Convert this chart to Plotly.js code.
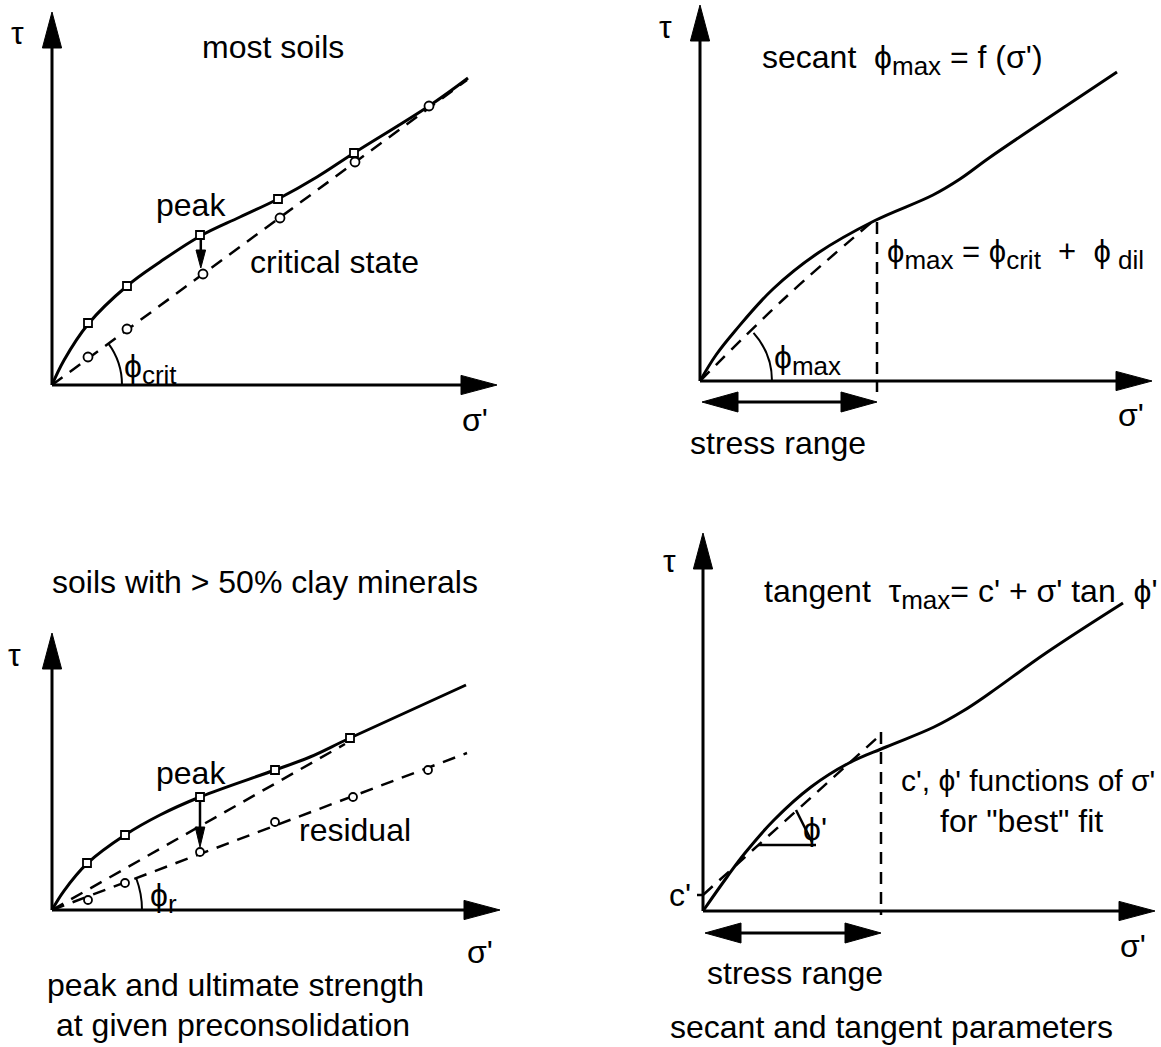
<!DOCTYPE html>
<html><head><meta charset="utf-8">
<script src="https://cdn.plot.ly/plotly-3.0.1.min.js"></script>
<style>html,body{margin:0;padding:0;background:#fff}</style>
</head><body><div id="chart" style="width:1161px;height:1047px"></div>
<script>
// ---------- Panel 1: most soils ----------
const p1PeakSigma = [0.9, 1.875, 3.7, 5.65, 7.55];
const p1PeakTau   = [1.55, 2.475, 3.75, 4.65, 5.8];
const p1PeakCurveSigma = [0, 0.3, 0.9, 1.875, 2.7, 3.7, 4.7, 5.65, 6.625, 7.55, 9.425, 10.4];
const p1PeakCurveTau   = [0, 0.62, 1.52, 2.475, 3.075, 3.72, 4.2, 4.65, 5.2, 5.8, 6.975, 7.675];
const p1CritSigma = [0.9, 1.875, 3.775, 5.7, 7.575, 9.425];
const p1CritTau   = [0.7, 1.4, 2.775, 4.175, 5.575, 6.975];
const p1CritLineSigma = [0, 10.375];
const p1CritLineTau   = [0, 7.625];

// ---------- Panel 2: secant ----------
const p2CurveSigma = [0, 0.4, 0.875, 1.825, 2.95, 4.35, 5.825, 6.5, 7.225, 8.625, 10.425];
const p2CurveTau   = [0, 0.65, 1.25, 2.3, 3.2, 4.0, 4.65, 5.05, 5.575, 6.525, 7.725];
const p2SecantSigma = [0, 2.15, 4.3];
const p2SecantTau   = [0, 2.1, 3.975];
const p2StressRange = [0.05, 4.425];

// ---------- Panel 3: soils with > 50% clay minerals ----------
const p3PeakSigma = [0.875, 1.825, 3.7, 5.575, 7.45];
const p3PeakTau   = [1.175, 1.875, 2.825, 3.5, 4.3];
const p3PeakCurveSigma = [0, 0.3, 0.875, 1.825, 2.7, 3.7, 5.575, 6.45, 7.45, 10.35];
const p3PeakCurveTau   = [0, 0.48, 1.16, 1.875, 2.375, 2.825, 3.5, 3.825, 4.3, 5.625];
const p3ResSigma = [0.9, 1.825, 3.7, 5.575, 7.525, 9.4];
const p3ResTau   = [0.25, 0.675, 1.45, 2.2, 2.825, 3.5];
const p3ResLineSigma = [0, 10.375];
const p3ResLineTau   = [0, 3.925];
const p3CritLineSigma = [0, 7.325];
const p3CritLineTau   = [0, 4.15];

// ---------- Panel 4: tangent ----------
const p4CurveSigma = [0, 0.6, 1.05, 1.775, 2.7, 3.65, 4.575, 5.775, 6.5, 7.175, 8.575, 10.5];
const p4CurveTau   = [0, 0.85, 1.45, 2.275, 3.1, 3.7, 4.1, 4.6, 5.0, 5.45, 6.45, 7.7];
const p4TangentSigma = [0, 4.35];
const p4TangentTau   = [0.4, 4.325];
const p4StressRange = [0.05, 4.45];

// ---------- layout geometry ----------
const W = 1161, H = 1047, S = 40;
const FONT = 'Liberation Sans, Arial, Helvetica, DejaVu Sans, sans-serif';
const panels = [
  {ox: 52,  oy: 385, L: 0,   R: 580,  T: 0,   B: 500,  xTip: 11.125, yTip: 9.325},
  {ox: 700, oy: 381, L: 580, R: 1161, T: 0,   B: 500,  xTip: 11.3,   yTip: 9.4},
  {ox: 52,  oy: 910, L: 0,   R: 580,  T: 500, B: 1047, xTip: 11.2,   yTip: 6.925},
  {ox: 703, oy: 911, L: 580, R: 1161, T: 500, B: 1047, xTip: 11.3,   yTip: 9.45}
];
const sfx = i => (i === 0 ? '' : String(i + 1));

const traces = [];
function addLine(i, xs, ys, dash, width, spline) {
  traces.push({x: xs, y: ys, xaxis: 'x' + sfx(i), yaxis: 'y' + sfx(i), mode: 'lines',
    line: {color: '#000', width: width || 3, dash: dash || 'solid', shape: spline ? 'spline' : 'linear', smoothing: 1.1},
    hoverinfo: 'skip', showlegend: false});
}
function addMarkers(i, xs, ys, symbol, size) {
  traces.push({x: xs, y: ys, xaxis: 'x' + sfx(i), yaxis: 'y' + sfx(i), mode: 'markers',
    marker: {symbol: symbol, size: size, color: '#fff', line: {color: '#000', width: 1.8}},
    hoverinfo: 'skip', showlegend: false, cliponaxis: false});
}

const DASH = '13px,9px';
// panel 1
addLine(0, p1CritLineSigma, p1CritLineTau, DASH, 2.5);
addLine(0, p1PeakCurveSigma, p1PeakCurveTau, null, 3, true);
addMarkers(0, p1PeakSigma, p1PeakTau, 'square', 8);
addMarkers(0, p1CritSigma, p1CritTau, 'circle', 9);
// panel 2
addLine(1, p2SecantSigma, p2SecantTau, DASH, 2.5, true);
addLine(1, p2CurveSigma, p2CurveTau, null, 3, true);
// panel 3
addLine(2, p3CritLineSigma, p3CritLineTau, DASH, 2.5);
addLine(2, p3ResLineSigma, p3ResLineTau, DASH, 2.5);
addLine(2, p3PeakCurveSigma, p3PeakCurveTau, null, 3, true);
addMarkers(2, p3PeakSigma, p3PeakTau, 'square', 8);
addMarkers(2, p3ResSigma, p3ResTau, 'circle', 8);
// panel 4
addLine(3, p4TangentSigma, p4TangentTau, DASH, 2.5);
addLine(3, p4CurveSigma, p4CurveTau, null, 3, true);

// ---------- shapes ----------
const shapes = [];
function seg(i, x0, y0, x1, y1, w, dash) {
  shapes.push({type: 'line', xref: 'x' + sfx(i), yref: 'y' + sfx(i), x0, y0, x1, y1,
    line: {color: '#000', width: w || 3, dash: dash || 'solid'}, layer: 'above'});
}
function tri(i, tx, ty, dir, len, half) {
  let p;
  if (dir === 'right') p = `M${tx},${ty} L${tx - len},${ty + half} L${tx - len},${ty - half} Z`;
  if (dir === 'left')  p = `M${tx},${ty} L${tx + len},${ty + half} L${tx + len},${ty - half} Z`;
  if (dir === 'up')    p = `M${tx},${ty} L${tx - half},${ty - len} L${tx + half},${ty - len} Z`;
  if (dir === 'down')  p = `M${tx},${ty} L${tx - half},${ty + len} L${tx + half},${ty + len} Z`;
  shapes.push({type: 'path', xref: 'x' + sfx(i), yref: 'y' + sfx(i), path: p,
    fillcolor: '#000', line: {color: '#000', width: 1}, layer: 'above'});
}
function arc(i, r, deg) {
  const t = deg * Math.PI / 180, k = 4 / 3 * Math.tan(t / 4) * r;
  const x3 = r * Math.cos(t), y3 = r * Math.sin(t);
  const x2 = x3 + k * Math.sin(t), y2 = y3 - k * Math.cos(t);
  shapes.push({type: 'path', xref: 'x' + sfx(i), yref: 'y' + sfx(i),
    path: `M${r},0 C${r},${k} ${x2},${y2} ${x3},${y3}`, line: {color: '#000', width: 2}, layer: 'above'});
}
// axes with arrow heads
const HL = 0.9, HW = 0.24;
panels.forEach((p, i) => {
  seg(i, 0, 0, p.xTip - HL + 0.1, 0, 3);
  seg(i, 0, 0, 0, p.yTip - HL + 0.1, 3);
  tri(i, p.xTip, 0, 'right', HL, HW);
  tri(i, 0, p.yTip, 'up', HL, HW);
});
// panel 1 extras
seg(0, 3.72, 3.65, 3.72, 3.3, 2.5);
tri(0, 3.72, 2.925, 'down', 0.45, 0.12);
arc(0, 1.75, 36.5);
// panel 2 extras
seg(1, 4.425, 3.975, 4.425, -0.275, 2.5, '12px,8px');
seg(1, p2StressRange[0] + 0.8, -0.525, p2StressRange[1] - 0.8, -0.525, 3);
tri(1, p2StressRange[0], -0.525, 'left', 0.9, 0.25);
tri(1, p2StressRange[1], -0.525, 'right', 0.9, 0.25);
arc(1, 1.8, 42);
// panel 3 extras
seg(2, 3.7, 2.72, 3.7, 2.0, 2.5);
tri(2, 3.7, 1.575, 'down', 0.5, 0.12);
arc(2, 2.25, 20.5);
// panel 4 extras
seg(3, 4.45, 4.475, 4.45, -0.1, 2.5, '12px,8px');
seg(3, p4StressRange[0] + 0.8, -0.55, p4StressRange[1] - 0.8, -0.55, 3);
tri(3, p4StressRange[0], -0.55, 'left', 0.9, 0.25);
tri(3, p4StressRange[1], -0.55, 'right', 0.9, 0.25);
seg(3, -0.15, 0.4, 0, 0.4, 2.5);
seg(3, 1.375, 1.65, 2.825, 1.65, 2.5);
seg(3, 2.325, 2.525, 2.725, 1.725, 2.5);

// ---------- text ----------
const annotations = [];
function txt(px, py, text, xa, size) {
  annotations.push({xref: 'paper', yref: 'paper', x: px / W, y: 1 - py / H, text: text,
    showarrow: false, xanchor: xa || 'center', yanchor: 'middle',
    font: {family: FONT, size: size || 32, color: '#000'}});
}
const NB = '\u00a0';
const sub = s => '<sub><span style="font-size:26px">' + s + '</span></sub>';
// panel 1
txt(17, 33, 'τ');
txt(273, 47, 'most soils');
txt(191, 205, 'peak');
txt(334, 262, 'critical state');
txt(122, 369, 'ϕ' + sub('crit'), 'left');
txt(475, 420, "σ'");
// panel 2
txt(665, 27, 'τ');
txt(760, 60, 'secant' + NB + NB + 'ϕ' + sub('max') + NB + '= f (σ\')', 'left');
txt(885, 255, 'ϕ' + sub('max') + NB + '= ϕ' + sub('crit') + NB + NB + '+' + NB + NB + 'ϕ' + sub(NB + 'dil'), 'left', 31);
txt(772, 360, 'ϕ' + sub('max'), 'left');
txt(1131, 415, "σ'");
txt(778, 443, 'stress range');
// panel 3
txt(14, 655, 'τ');
txt(265, 582, 'soils with &gt; 50% clay minerals');
txt(191, 773, 'peak');
txt(355, 830, 'residual');
txt(148, 898, 'ϕ' + sub('r'), 'left');
txt(480, 952, "σ'");
txt(235, 985, 'peak and ultimate strength');
txt(233, 1025, 'at given preconsolidation');
// panel 4
txt(669, 561, 'τ');
txt(762, 594, 'tangent' + NB + NB + 'τ' + sub('max') + '= c\' + σ\' tan' + NB + NB + 'ϕ\'', 'left');
txt(1028, 780, "c', ϕ' functions of σ'", 'center', 30);
txt(1021, 821, 'for "best" fit');
txt(680, 895, "c'");
txt(815, 829, "ϕ'");
txt(1133, 946, "σ'");
txt(795, 973, 'stress range');
txt(891, 1027, 'secant and tangent parameters');

// ---------- axes ----------
const layout = {
  width: W, height: H, margin: {l: 0, r: 0, t: 0, b: 0},
  paper_bgcolor: '#fff', plot_bgcolor: 'rgba(0,0,0,0)', showlegend: false,
  shapes: shapes, annotations: annotations, font: {family: FONT}
};
panels.forEach((p, i) => {
  const s = sfx(i);
  layout['xaxis' + s] = {domain: [p.L / W, p.R / W], range: [(p.L - p.ox) / S, (p.R - p.ox) / S],
    visible: false, fixedrange: true, anchor: 'y' + s};
  layout['yaxis' + s] = {domain: [1 - p.B / H, 1 - p.T / H], range: [(p.oy - p.B) / S, (p.oy - p.T) / S],
    visible: false, fixedrange: true, anchor: 'x' + s};
});

Plotly.newPlot('chart', traces, layout, {displayModeBar: false, staticPlot: true});
</script></body></html>
